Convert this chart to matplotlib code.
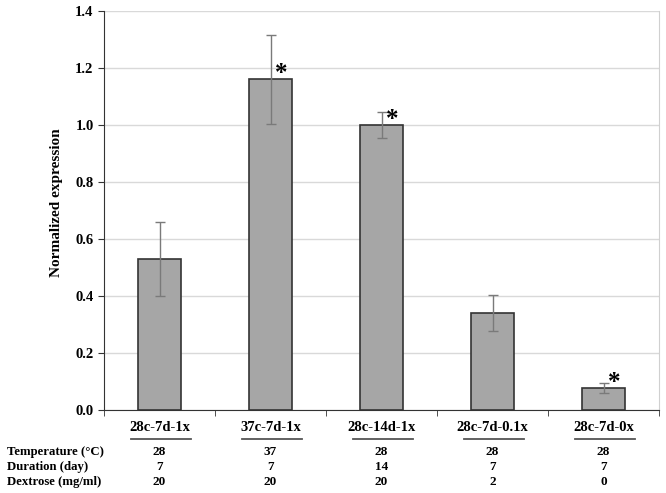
import matplotlib.pyplot as plt
from matplotlib.transforms import blended_transform_factory

# ---------------------------
# Data
# ---------------------------

conditions = ["28c-7d-1x", "37c-7d-1x", "28c-14d-1x", "28c-7d-0.1x", "28c-7d-0x"]
expression = [0.53, 1.16, 1.00, 0.34, 0.077]
errors = [0.13, 0.157, 0.045, 0.063, 0.016]
significant = [False, True, True, False, True]

temperature = ["28", "37", "28", "28", "28"]
duration = ["7", "7", "14", "7", "7"]
dextrose = ["20", "20", "20", "2", "0"]
row_names = ["Temperature (\u00b0C)", "Duration (day)", "Dextrose (mg/ml)"]

plt.rcParams['font.family'] = ['Liberation Serif', 'DejaVu Serif']
plt.rcParams['font.weight'] = 'bold'

fig = plt.figure(figsize=(6.66, 4.93), dpi=100)
ax = fig.add_axes([104/666, 83/493, 555/666, 399/493])

x = list(range(len(conditions)))
ax.bar(x, expression, width=0.39, color="#a6a6a6", edgecolor="#333333",
       linewidth=1.2, zorder=3)
ax.errorbar(x, expression, yerr=errors, fmt="none", ecolor="#7a7a7a",
            elinewidth=1.0, capsize=3.5, capthick=1.0, zorder=4)

# significance marks, just right of the error bar
for i, flag in enumerate(significant):
    if flag:
        ax.text(i + 0.095, expression[i] - 0.02, "*", fontsize=18,
                fontweight="bold", ha="center", va="bottom", zorder=5)

ax.set_xlim(-0.5, len(conditions) - 0.5)
ax.set_ylim(0, 1.4)
ax.set_yticks([0.0, 0.2, 0.4, 0.6, 0.8, 1.0, 1.2, 1.4])
ax.set_yticklabels(["%.1f" % v for v in ax.get_yticks()], fontsize=10.5,
                   fontweight="bold")
ax.yaxis.grid(True, color="#d9d9d9", linewidth=1.0, zorder=0)
ax.set_axisbelow(True)

ax.set_xticks(x)
ax.set_xticklabels([])
ax.tick_params(axis="x", which="major", length=0)
ax.set_xticks([i + 0.5 for i in range(-1, len(conditions))], minor=True)
ax.tick_params(axis="x", which="minor", length=4, direction="out",
               color="#333333")
ax.tick_params(axis="y", length=4, direction="out", color="#333333")

ax.spines["top"].set_visible(False)
ax.spines["right"].set_color("#d0d0d0")
ax.spines["left"].set_color("#333333")
ax.spines["bottom"].set_color("#333333")

ax.set_ylabel("Normalized expression", fontsize=11, fontweight="bold")
ax.yaxis.set_label_coords(-0.074, 0.519)

# ---------------------------
# Condition table under the axis
# ---------------------------

trans = blended_transform_factory(ax.transData, ax.transAxes)
trans_fig = blended_transform_factory(fig.transFigure, ax.transAxes)

for i, name in enumerate(conditions):
    ax.text(i, -0.045, name, transform=trans, fontsize=10.5, fontweight="bold",
            ha="center", va="center")
    ax.plot([i - 0.26, i + 0.28], [-0.073, -0.073], transform=trans,
            color="#555555", linewidth=1.3, clip_on=False)

rows = [temperature, duration, dextrose]
row_y = [-0.105, -0.143, -0.180]
for name, vals, yy in zip(row_names, rows, row_y):
    ax.text(7/666, yy, name, transform=trans_fig, fontsize=9.2,
            fontweight="bold", ha="left", va="center")
    for i, v in enumerate(vals):
        ax.text(i, yy, v, transform=trans, fontsize=9.5, fontweight="bold",
                ha="center", va="center")

fig.savefig("out.png", dpi=100)
